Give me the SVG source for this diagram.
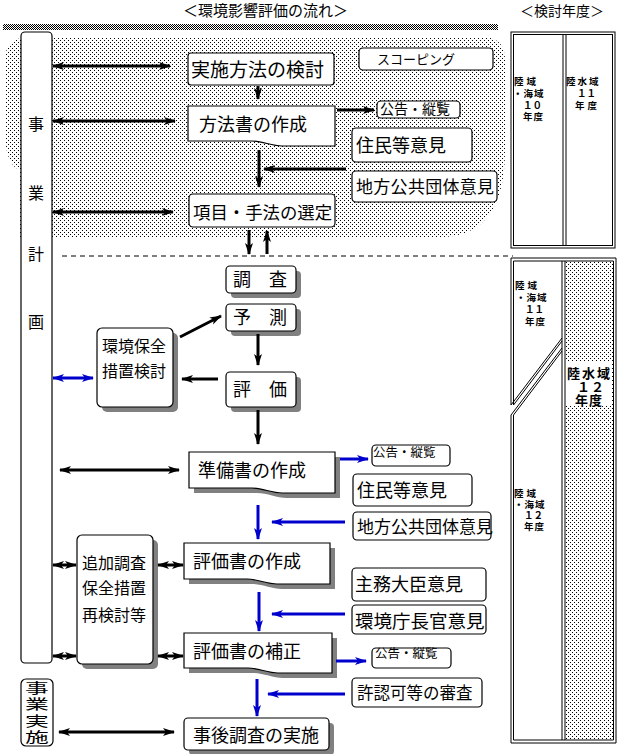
<svg xmlns="http://www.w3.org/2000/svg" width="626" height="754" viewBox="0 0 626 754">
<style>
.b{fill:#fff;stroke:#000;stroke-width:1.2}
.sh{fill:#808080}
text{font-family:"Noto Sans CJK JP","Noto Sans CJK SC",sans-serif;fill:#000}
.f18{font-size:18px}
.f17{font-size:17px}
.f16{font-size:16px}
.f13{font-size:13px}
.f10{font-size:9.5px;font-weight:bold}
.k{stroke:#000;stroke-width:3;fill:none}
.kb{stroke:#0000cc;stroke-width:3;fill:none}
.ln{stroke:#000;stroke-width:1;fill:none}
</style>
<defs>
<pattern id="dots" width="4" height="4" patternUnits="userSpaceOnUse"><rect width="4" height="4" fill="#fff"/><rect x="0" y="0" width="1" height="1" fill="#000" shape-rendering="crispEdges"/><rect x="2" y="2" width="1" height="1" fill="#000" shape-rendering="crispEdges"/></pattern>
<pattern id="hatch" width="2" height="2" patternUnits="userSpaceOnUse"><rect width="2" height="2" fill="#fff"/><rect width="1" height="1" fill="#000"/><rect x="1" y="1" width="1" height="1" fill="#000"/></pattern>
<marker id="hk" viewBox="0 0 12 10" refX="11" refY="5" markerWidth="12" markerHeight="10" markerUnits="userSpaceOnUse" orient="auto-start-reverse"><path d="M0,1 L12,5 L0,9 L3,5Z" fill="#000"/></marker>
<marker id="hb" viewBox="0 0 12 10" refX="11" refY="5" markerWidth="12" markerHeight="10" markerUnits="userSpaceOnUse" orient="auto-start-reverse"><path d="M0,1 L12,5 L0,9 L3,5Z" fill="#0000cc"/></marker>
</defs>
<rect width="626" height="754" fill="#fff"/>

<g id="titles">
<text x="183" y="16" style="font-size:15px">＜環境影響評価の流れ＞</text>
<text x="520" y="16" style="font-size:14px">＜検討年度＞</text>
<rect x="3" y="24" width="495" height="6" fill="url(#hatch)"/>
</g>

<g id="scoping-area">
<path d="M5,60 Q5,37 30,37 H482 Q505,37 505,60 V150 Q505,237 440,237 H20 V170 Q5,165 5,130 Z" fill="url(#dots)"/>
<line x1="62" y1="256" x2="513" y2="256" stroke="#000" stroke-width="1" stroke-dasharray="5,4"/>
</g>

<g id="jigyo-keikaku">
<rect class="b" x="21" y="32" width="31" height="631" rx="4"/>
<text class="f16" x="36" y="130" text-anchor="middle">事</text>
<text class="f16" x="36" y="199" text-anchor="middle">業</text>
<text class="f16" x="36" y="260" text-anchor="middle">計</text>
<text class="f16" x="36" y="328" text-anchor="middle">画</text>
</g>

<g id="jigyo-jisshi">
<rect class="b" x="21" y="679" width="32" height="67" rx="5"/>
<g transform="translate(37,0) scale(1.7,1)">
<text x="0" y="693" text-anchor="middle" style="font-size:14px">事</text>
<text x="0" y="709" text-anchor="middle" style="font-size:14px">業</text>
<text x="0" y="726" text-anchor="middle" style="font-size:14px">実</text>
<text x="0" y="742" text-anchor="middle" style="font-size:14px">施</text>
</g>
</g>

<g id="n-jisshi">
<rect class="b" x="188" y="53" width="146" height="32" rx="3"/>
<text x="191" y="77" style="font-size:19px">実施方法の検討</text>
</g>
<g id="n-scoping">
<rect class="b" x="359" y="48" width="134" height="22" rx="4"/>
<text class="f13" x="416" y="64" text-anchor="middle">スコーピング</text>
</g>
<g id="n-hohosho">
<path class="b" d="M188,106H335V146H282C272,146 262,141 252,141H188Z"/>
<text class="f18" x="199" y="131">方法書の作成</text>
</g>
<g id="n-kokoku1">
<rect class="b" x="377" y="101" width="83" height="17" rx="4"/>
<text x="380" y="114" style="font-size:14px">公告・縦覧</text>
</g>
<g id="n-jumin1">
<rect class="b" x="352" y="128" width="120" height="34" rx="4"/>
<text class="f18" x="356" y="152">住民等意見</text>
</g>
<g id="n-chiho1">
<rect class="b" x="352" y="171" width="145" height="31" rx="4"/>
<text class="f17" x="356" y="193" style="letter-spacing:0.3px">地方公共団体意見</text>
</g>
<g id="n-komoku">
<rect class="b" x="189" y="194" width="146" height="33" rx="4"/>
<text x="193" y="219" style="font-size:17.4px">項目・手法の選定</text>
</g>

<g id="n-chosa">
<rect class="sh" x="231" y="271" width="70" height="27" rx="4"/>
<rect class="b" x="226" y="266" width="70" height="27" rx="4"/>
<text class="f18" x="233" y="286">調　査</text>
</g>
<g id="n-yosoku">
<rect class="sh" x="231" y="309" width="70" height="27" rx="4"/>
<rect class="b" x="226" y="304" width="70" height="27" rx="4"/>
<text class="f18" x="233" y="324">予　測</text>
</g>
<g id="n-hyoka">
<rect class="sh" x="231" y="377" width="70" height="35" rx="4"/>
<rect class="b" x="226" y="372" width="70" height="35" rx="4"/>
<text class="f18" x="233" y="396">評　価</text>
</g>
<g id="n-hozen">
<rect class="sh" x="102" y="333" width="76" height="79" rx="5"/>
<rect class="b" x="97" y="328" width="76" height="79" rx="5"/>
<text class="f16" x="102" y="352">環境保全</text>
<text class="f16" x="102" y="377">措置検討</text>
</g>

<g id="n-junbisho">
<path class="sh" transform="translate(5,5)" d="M189,452H335V493H282C272,493 262,488 252,488H189Z"/>
<path class="b" d="M189,452H335V493H282C272,493 262,488 252,488H189Z"/>
<text class="f18" x="198" y="477">準備書の作成</text>
</g>
<g id="n-kokoku2">
<rect class="b" x="372" y="445" width="78" height="21" rx="4"/>
<text x="373" y="457" style="font-size:12.5px">公告・縦覧</text>
</g>
<g id="n-jumin2">
<rect class="b" x="353" y="474" width="119" height="32" rx="4"/>
<text class="f18" x="357" y="497">住民等意見</text>
</g>
<g id="n-chiho2">
<rect class="b" x="353" y="512" width="138" height="28" rx="4"/>
<text class="f17" x="357" y="533">地方公共団体意見</text>
</g>

<g id="n-tsuika">
<rect class="sh" x="82" y="540" width="76" height="129" rx="5"/>
<rect class="b" x="77" y="535" width="76" height="129" rx="5"/>
<text class="f16" x="82" y="569">追加調査</text>
<text class="f16" x="82" y="594">保全措置</text>
<text class="f16" x="82" y="621">再検討等</text>
</g>
<g id="n-hyokasho">
<path class="sh" transform="translate(5,5)" d="M184,543H330V584H277C267,584 257,579 247,579H184Z"/>
<path class="b" d="M184,543H330V584H277C267,584 257,579 247,579H184Z"/>
<text class="f18" x="193" y="568">評価書の作成</text>
</g>
<g id="n-shumu">
<rect class="b" x="352" y="568" width="134" height="33" rx="4"/>
<text class="f18" x="355" y="591">主務大臣意見</text>
</g>
<g id="n-kankyocho">
<rect class="b" x="352" y="605" width="134" height="29" rx="4"/>
<text x="355" y="628" style="font-size:18.5px">環境庁長官意見</text>
</g>
<g id="n-hosei">
<path class="sh" transform="translate(5,5)" d="M184,633H332V673H278C268,673 258,668 248,668H184Z"/>
<path class="b" d="M184,633H332V673H278C268,673 258,668 248,668H184Z"/>
<text class="f18" x="193" y="658">評価書の補正</text>
</g>
<g id="n-kokoku3">
<rect class="b" x="372" y="648" width="79" height="20" rx="4"/>
<text x="375" y="658" style="font-size:12.5px">公告・縦覧</text>
</g>
<g id="n-kyoninka">
<rect class="b" x="352" y="678" width="130" height="29" rx="4"/>
<text x="357" y="699" style="font-size:16.5px">許認可等の審査</text>
</g>
<g id="n-jigo">
<rect class="sh" x="189" y="723" width="145" height="32" rx="4"/>
<rect class="b" x="184" y="718" width="145" height="32" rx="4"/>
<text class="f18" x="193" y="742">事後調査の実施</text>
</g>

<g id="nendo1">
<rect x="511" y="32" width="104" height="216" fill="none" stroke="#000"/>
<rect x="513.5" y="34.5" width="99" height="211" fill="none" stroke="#000"/>
<line class="ln" x1="563" y1="34.5" x2="563" y2="245.5"/>
<line class="ln" x1="566" y1="34.5" x2="566" y2="245.5"/>
<text class="f10" x="514" y="85" style="letter-spacing:3px">陸域</text>
<text class="f10" x="513" y="97" style="letter-spacing:1px">・海域</text>
<text class="f10" x="523" y="109">１０</text>
<text class="f10" x="523" y="120" style="letter-spacing:1px">年度</text>
<text class="f10" x="566" y="85" style="letter-spacing:2px">陸水域</text>
<text class="f10" x="577" y="97">１１</text>
<text class="f10" x="575" y="109" style="letter-spacing:3px">年度</text>
</g>

<g id="nendo2">
<rect x="565" y="262" width="48" height="478" fill="url(#dots)"/>
<rect x="566" y="362" width="46" height="44" fill="#fff"/>
<path class="ln" d="M511,405 V258 H616 V743 H511 V415"/>
<path class="ln" d="M513.5,405 V261 H613.5 V740 H513.5 V415"/>
<line class="ln" x1="562" y1="261" x2="562" y2="740"/>
<line class="ln" x1="565" y1="261" x2="565" y2="740"/>
<line class="ln" x1="562" y1="338" x2="511" y2="405"/>
<line class="ln" x1="562" y1="341" x2="513.5" y2="405"/>
<line class="ln" x1="562" y1="348" x2="511" y2="415"/>
<line class="ln" x1="562" y1="351" x2="513.5" y2="415"/>
<text class="f10" x="515" y="289" style="letter-spacing:3px">陸域</text>
<text class="f10" x="516" y="301" style="letter-spacing:1px">・海域</text>
<text class="f10" x="525" y="313">１１</text>
<text class="f10" x="525" y="325" style="letter-spacing:1px">年度</text>
<text x="567" y="378" style="font-size:13px;font-weight:bold;letter-spacing:2px">陸水域</text>
<text x="577" y="392" style="font-size:13px;font-weight:bold;letter-spacing:1px">１２</text>
<text x="575" y="405" style="font-size:13px;font-weight:bold;letter-spacing:1px">年度</text>
<text class="f10" x="514" y="497" style="letter-spacing:3px">陸域</text>
<text class="f10" x="514" y="508" style="letter-spacing:1px">・海域</text>
<text class="f10" x="524" y="519">１２</text>
<text class="f10" x="524" y="530" style="letter-spacing:1px">年度</text>
</g>

<g id="connectors">
<line class="k" x1="53" y1="66" x2="170" y2="66" marker-start="url(#hk)" marker-end="url(#hk)"/>
<line class="k" x1="53" y1="121" x2="175" y2="121" marker-start="url(#hk)" marker-end="url(#hk)"/>
<line class="k" x1="53" y1="212" x2="173" y2="212" marker-start="url(#hk)" marker-end="url(#hk)"/>
<line class="k" x1="60" y1="470" x2="179" y2="470" marker-start="url(#hk)" marker-end="url(#hk)"/>
<line class="k" x1="53" y1="565" x2="76" y2="565" marker-start="url(#hk)" marker-end="url(#hk)"/>
<line class="k" x1="53" y1="656" x2="76" y2="656" marker-start="url(#hk)" marker-end="url(#hk)"/>
<line class="k" x1="158" y1="565" x2="183" y2="565" marker-start="url(#hk)" marker-end="url(#hk)"/>
<line class="k" x1="158" y1="656" x2="183" y2="656" marker-start="url(#hk)" marker-end="url(#hk)"/>
<line class="k" x1="59" y1="732" x2="174" y2="732" marker-start="url(#hk)" marker-end="url(#hk)"/>
<line class="k" x1="258" y1="86" x2="258" y2="99" marker-end="url(#hk)"/>
<line class="k" x1="337" y1="110" x2="374" y2="110" marker-end="url(#hk)"/>
<line class="k" x1="346" y1="169" x2="264" y2="169" marker-end="url(#hk)"/>
<line class="k" x1="259" y1="150" x2="259" y2="187" marker-end="url(#hk)"/>
<line class="k" x1="249" y1="230" x2="249" y2="254" marker-end="url(#hk)"/>
<line class="k" x1="267" y1="254" x2="267" y2="231" marker-end="url(#hk)"/>
<line class="k" x1="180" y1="337" x2="221" y2="316" marker-end="url(#hk)"/>
<line class="k" x1="258" y1="334" x2="258" y2="365" marker-end="url(#hk)"/>
<line class="k" x1="218" y1="379" x2="182" y2="379" marker-end="url(#hk)"/>
<line class="k" x1="258" y1="410" x2="258" y2="444" marker-end="url(#hk)"/>
<line class="kb" x1="53" y1="378" x2="93" y2="378" marker-start="url(#hb)" marker-end="url(#hb)"/>
<line class="kb" x1="340" y1="459" x2="368" y2="459" marker-end="url(#hb)"/>
<line class="kb" x1="345" y1="522" x2="272" y2="522" marker-end="url(#hb)"/>
<line class="kb" x1="258" y1="505" x2="258" y2="539" marker-end="url(#hb)"/>
<line class="kb" x1="259" y1="592" x2="259" y2="631" marker-end="url(#hb)"/>
<line class="kb" x1="345" y1="614" x2="272" y2="614" marker-end="url(#hb)"/>
<line class="kb" x1="336" y1="661" x2="366" y2="661" marker-end="url(#hb)"/>
<line class="kb" x1="345" y1="694" x2="268" y2="694" marker-end="url(#hb)"/>
<line class="kb" x1="257" y1="679" x2="257" y2="716" marker-end="url(#hb)"/>
</g>
</svg>
